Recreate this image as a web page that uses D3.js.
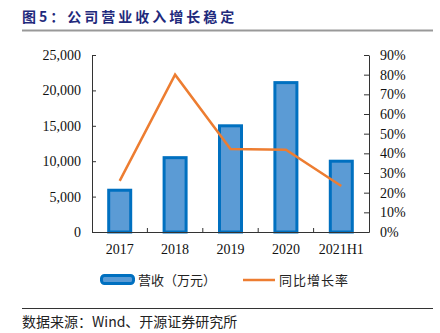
<!DOCTYPE html>
<html>
<head>
<meta charset="utf-8">
<script src="https://cdn.jsdelivr.net/npm/d3@7"></script>
<style>
  body { margin: 0; background: #fff; }
  svg { display: block; }
</style>
</head>
<body>
<svg width="440" height="333"></svg>
<script>
// revenue (10k yuan) and yoy growth (%)
const years = ['2017', '2018', '2019', '2020', '2021H1'];
const revenue = [5900, 10500, 15000, 21100, 10000];
const growth = [26, 80, 42.2, 41.8, 23.4];
const leftTicks = [0, 5000, 10000, 15000, 20000, 25000];
const rightTicks = [0, 10, 20, 30, 40, 50, 60, 70, 80, 90];

const CN = '"Noto Sans CJK SC", sans-serif';
const SERIF = '"Liberation Serif", "Times New Roman", serif';

const svg = d3.select('svg');
const margin = {top: 55, right: 71, bottom: 101, left: 92};
const width = +svg.attr('width');
const height = +svg.attr('height');
const innerWidth = width - margin.left - margin.right;
const innerHeight = height - margin.top - margin.bottom;

//title and rule under it
svg.append('text')
  .attr('x', 22)
  .attr('y', 22)
  .attr('font-family', CN)
  .attr('font-size', 14)
  .attr('font-weight', 'bold')
  .attr('letter-spacing', 3)
  .attr('fill', '#1f2a7c')
  .text('图5：公司营业收入增长稳定');

svg.append('line')
  .attr('x1', 22).attr('x2', 433)
  .attr('y1', 30.5).attr('y2', 30.5)
  .attr('stroke', '#999')
  .attr('stroke-width', 2);

const g = svg.append('g')
  .attr('transform', `translate(${margin.left}, ${margin.top})`);

//scales
const xScale = d3.scaleBand()
  .domain(years)
  .range([0, innerWidth]);

const yLeft = d3.scaleLinear()
  .domain([0, 25000])
  .range([innerHeight, 0]);

const yRight = d3.scaleLinear()
  .domain([0, 90])
  .range([innerHeight, 0]);

//bars
const barW = 22;
g.selectAll('rect.bar')
  .data(revenue)
  .enter()
  .append('rect')
    .attr('class', 'bar')
    .attr('x', (d, i) => xScale(years[i]) + xScale.bandwidth() / 2 - barW / 2)
    .attr('y', d => yLeft(d))
    .attr('width', barW)
    .attr('height', d => innerHeight - yLeft(d))
    .attr('fill', '#5b9bd5')
    .attr('stroke', '#0070c0')
    .attr('stroke-width', 3);

//axes: lines and ticks only, labels drawn below
const leftAxis = g.append('g')
  .call(d3.axisLeft(yLeft)
    .tickValues(leftTicks)
    .tickFormat('')
    .tickSize(-4)
    .tickSizeOuter(0));

const rightAxis = g.append('g')
  .attr('transform', `translate(${innerWidth}, 0)`)
  .call(d3.axisRight(yRight)
    .tickValues(rightTicks)
    .tickFormat('')
    .tickSize(-5)
    .tickSizeOuter(0));

const xAxis = g.append('g')
  .attr('transform', `translate(0, ${innerHeight})`)
  .call(d3.axisBottom(xScale)
    .tickFormat('')
    .tickSize(0));

//tick marks between the categories
xAxis.selectAll('line.sep')
  .data(years.slice(1))
  .enter()
  .append('line')
    .attr('class', 'sep')
    .attr('x1', d => xScale(d))
    .attr('x2', d => xScale(d))
    .attr('y1', 0)
    .attr('y2', -4)
    .attr('stroke', '#333');

[leftAxis, rightAxis, xAxis].forEach(a => {
  a.selectAll('.tick text').remove();
  a.selectAll('.domain, .tick line').attr('stroke', '#333');
  a.select('.domain').raise();
});

//tick labels
const fmt = d3.format(',');
g.selectAll('text.yl')
  .data(leftTicks)
  .enter()
  .append('text')
    .attr('class', 'yl')
    .attr('x', -11)
    .attr('y', d => yLeft(d) + 5)
    .attr('text-anchor', 'end')
    .attr('font-family', SERIF)
    .attr('font-size', 14)
    .attr('fill', '#111')
    .text(d => fmt(d));

g.selectAll('text.yr')
  .data(rightTicks)
  .enter()
  .append('text')
    .attr('class', 'yr')
    .attr('x', innerWidth + 11)
    .attr('y', d => yRight(d) + 5)
    .attr('text-anchor', 'start')
    .attr('font-family', SERIF)
    .attr('font-size', 14)
    .attr('fill', '#111')
    .text(d => d + '%');

g.selectAll('text.xl')
  .data(years)
  .enter()
  .append('text')
    .attr('class', 'xl')
    .attr('x', d => xScale(d) + xScale.bandwidth() / 2)
    .attr('y', innerHeight + 22)
    .attr('text-anchor', 'middle')
    .attr('font-family', SERIF)
    .attr('font-size', 14)
    .attr('fill', '#111')
    .text(d => d);

//growth line
const line = d3.line()
  .x((d, i) => xScale(years[i]) + xScale.bandwidth() / 2)
  .y(d => yRight(d));

g.append('path')
  .datum(growth)
  .attr('d', line)
  .attr('fill', 'none')
  .attr('stroke', '#ed7d31')
  .attr('stroke-width', 2.5);

//legend
const legend = svg.append('g')
  .attr('font-family', CN)
  .attr('font-size', 13)
  .attr('fill', '#222');
legend.append('rect')
  .attr('x', 101.5).attr('y', 275.5)
  .attr('width', 32).attr('height', 8)
  .attr('rx', 3)
  .attr('fill', '#5b9bd5')
  .attr('stroke', '#0070c0')
  .attr('stroke-width', 3);
legend.append('text')
  .attr('x', 138).attr('y', 284.5)
  .text('营收（万元）');
legend.append('line')
  .attr('x1', 243).attr('x2', 275)
  .attr('y1', 280).attr('y2', 280)
  .attr('stroke', '#ed7d31')
  .attr('stroke-width', 2.5);
legend.append('text')
  .attr('x', 279).attr('y', 284.5)
  .attr('letter-spacing', 1)
  .text('同比增长率');

//source note
svg.append('line')
  .attr('x1', 22).attr('x2', 433)
  .attr('y1', 308.5).attr('y2', 308.5)
  .attr('stroke', '#333')
  .attr('stroke-width', 1);

svg.append('text')
  .attr('x', 22).attr('y', 327)
  .attr('font-family', CN)
  .attr('font-size', 14)
  .attr('fill', '#222')
  .text('数据来源：Wind、开源证券研究所');
</script>
</body>
</html>
